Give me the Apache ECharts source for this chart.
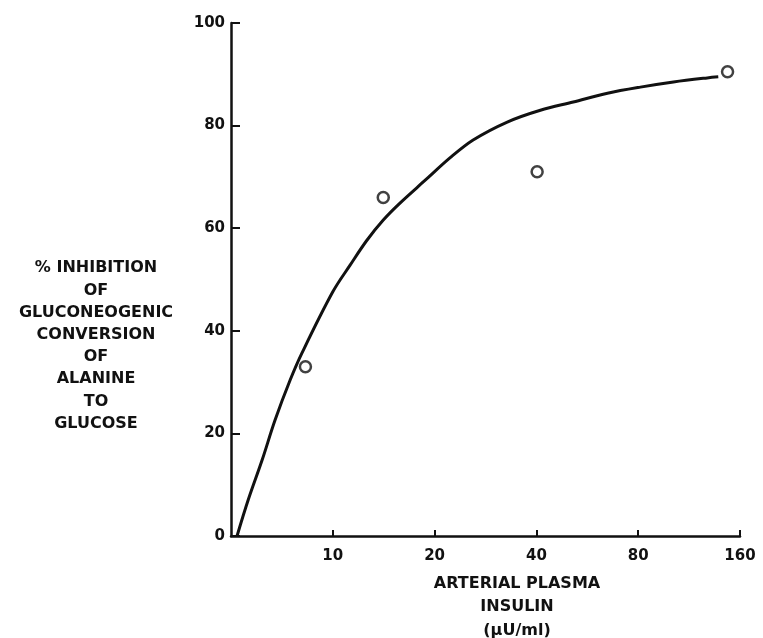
<html>
<head>
<meta charset="utf-8">
<script src="https://cdn.jsdelivr.net/npm/echarts@6/dist/echarts.min.js"></script>
</head>
<body style="margin: 0; padding: 0; background: #fff;">
<div id="chart" style="width: 763px; height: 638px;"></div>
<script>
// insulin (uU/ml) vs % inhibition
var obsInsulin = [8.3, 14.1, 40.2, 147];
var obsInhibition = [33, 66, 71, 90.5];

var fitInsulin = [5.21, 5.62, 6.18, 6.75, 7.48, 8.11, 10.0, 11.25, 12.6, 14.1, 15.8, 18.8, 22.2, 26.0, 32.8, 41.1, 51.4, 64.9, 81.2, 101.7, 128, 138];
var fitInhibition = [0, 7.0, 14.8, 22.6, 30.4, 35.7, 47.6, 52.8, 57.6, 61.6, 64.9, 69.4, 73.7, 77.2, 80.7, 83.0, 84.6, 86.3, 87.5, 88.5, 89.3, 89.5];

var xTicks = [10, 20, 40, 80, 160];
var yLabelLines = ['% INHIBITION', 'OF', 'GLUCONEOGENIC', 'CONVERSION', 'OF', 'ALANINE', 'TO', 'GLUCOSE'];
var xLabelLines = ['ARTERIAL PLASMA', 'INSULIN', '(\u03bcU/ml)'];

var font = 'DejaVu Sans';
var ink = '#111';

function pairs(xs, ys) {
	var out = [];
	for (var i = 0; i < xs.length; i++) out.push([xs[i], ys[i]]);
	return out;
}

var option = {
	animation: false,
	backgroundColor: '#fff',
	grid: { left: 231, right: 23, top: 23, bottom: 102 },
	xAxis: {
		type: 'log',
		logBase: 2,
		min: 5,
		max: 160,
		axisLine: { lineStyle: { color: ink, width: 2.5 } },
		axisTick: { inside: true, length: 6, customValues: xTicks, lineStyle: { color: ink, width: 2 } },
		axisLabel: { customValues: xTicks, color: ink, fontFamily: font, fontWeight: 'bold', fontSize: 15, margin: 13 },
		splitLine: { show: false }
	},
	yAxis: {
		type: 'value',
		min: 0,
		max: 100,
		interval: 20,
		axisLine: { show: true, lineStyle: { color: ink, width: 2.5 } },
		axisTick: { show: true, inside: true, length: 9, lineStyle: { color: ink, width: 2 } },
		axisLabel: { color: ink, fontFamily: font, fontWeight: 'bold', fontSize: 15, margin: 6 },
		splitLine: { show: false }
	},
	graphic: [
		{
			type: 'text', x: 96, y: 346,
			style: {
				text: yLabelLines.join('\n'), align: 'center', verticalAlign: 'middle',
				fill: ink, font: 'bold 16px "DejaVu Sans"', lineHeight: 22.2
			}
		},
		{
			type: 'text', x: 517, y: 607,
			style: {
				text: xLabelLines.join('\n'), align: 'center', verticalAlign: 'middle',
				fill: ink, font: 'bold 16px "DejaVu Sans"', lineHeight: 23.5
			}
		}
	],
	series: [
		{
			type: 'line',
			data: pairs(fitInsulin, fitInhibition),
			smooth: 0.35,
			showSymbol: false,
			lineStyle: { color: ink, width: 3 }
		},
		{
			type: 'scatter',
			data: pairs(obsInsulin, obsInhibition),
			symbol: 'circle',
			symbolSize: 11,
			itemStyle: { color: '#fff', borderColor: ink, borderWidth: 2.5 }
		}
	]
};
echarts.init(document.getElementById('chart')).setOption(option);
</script>
</body>
</html>
